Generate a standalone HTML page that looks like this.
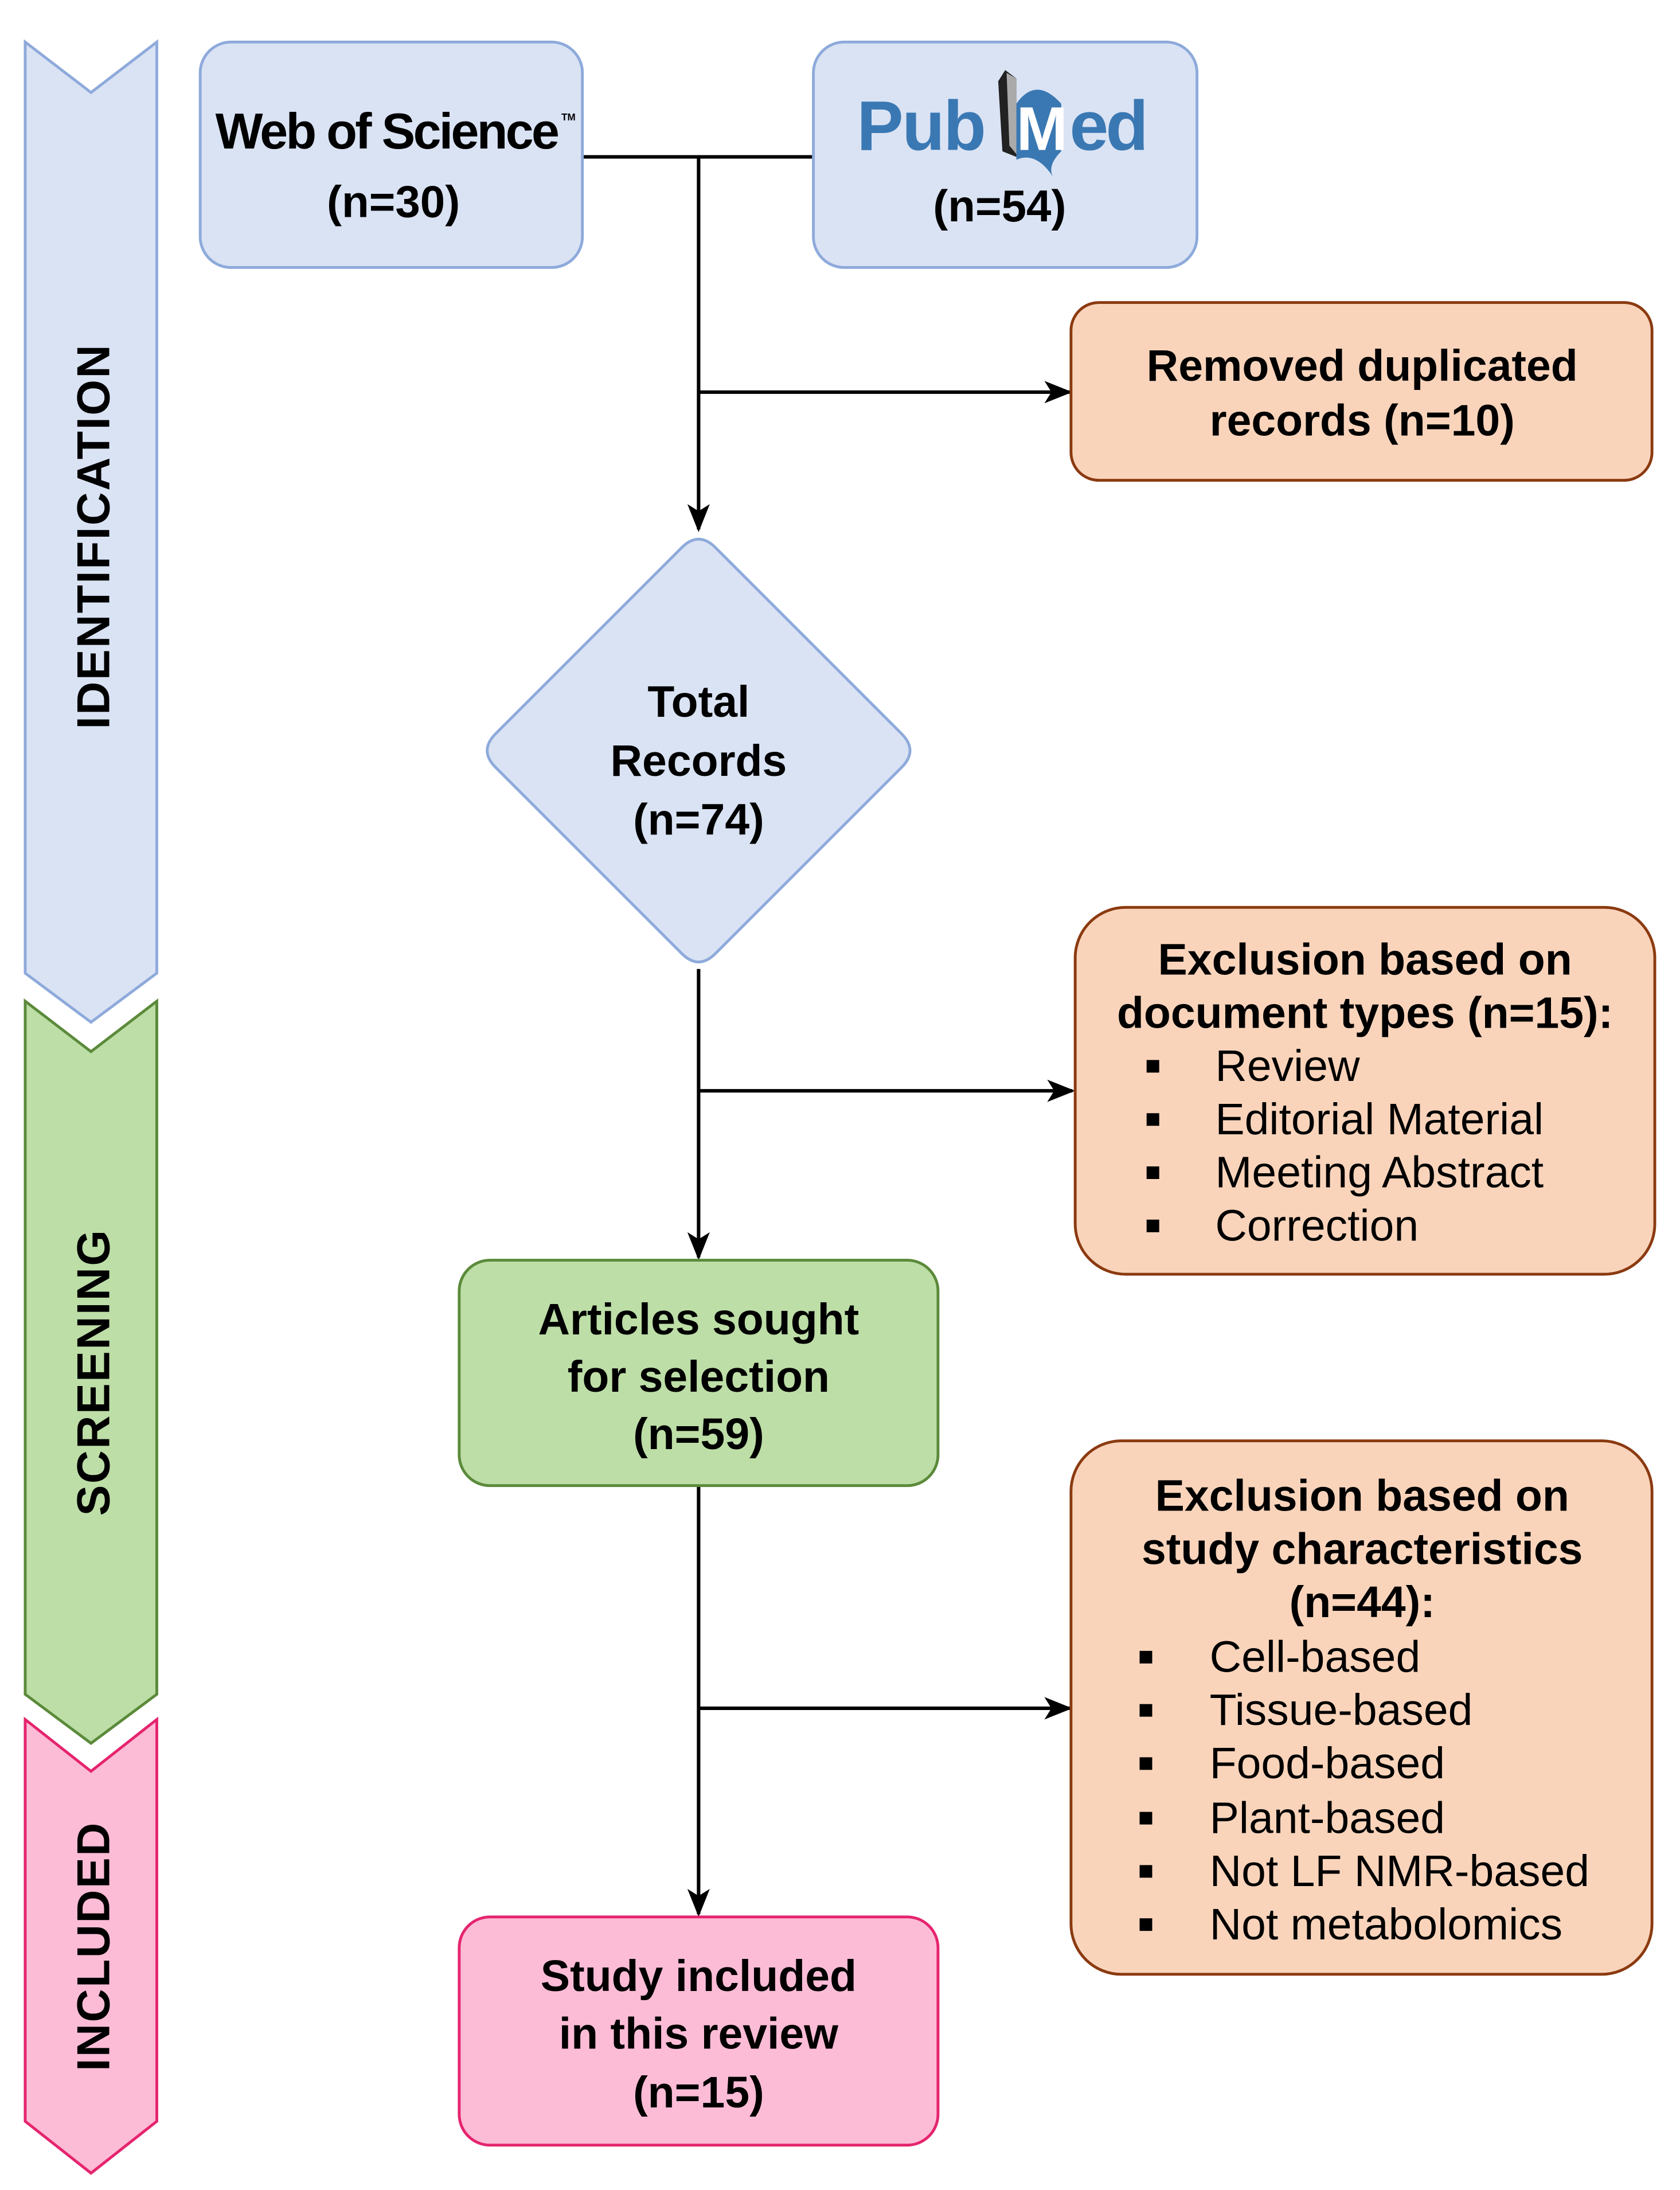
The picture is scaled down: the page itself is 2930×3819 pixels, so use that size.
<!DOCTYPE html>
<html><head><meta charset="utf-8"><style>
html,body{margin:0;padding:0;background:#fff}
svg{display:block}
text{font-family:"Liberation Sans",sans-serif}
</style></head><body>
<svg width="2930" height="3819" viewBox="0 0 1200 1564" xmlns="http://www.w3.org/2000/svg">
<defs>
<marker id="ah2" markerWidth="20" markerHeight="20" refX="18" refY="10" orient="auto" markerUnits="userSpaceOnUse" viewBox="0 0 20 20">
<path d="M0,2 L20,10 L0,18 L5,10 Z" fill="#000"/>
</marker>
</defs>
<rect width="1200" height="1564" fill="#fff"/>
<polygon points="18,30 65,66 112,30 112,695 65,730 18,695" fill="#dae3f4" stroke="#8eaadb" stroke-width="2"/>
<polygon points="18,715 65,751 112,715 112,1210 65,1245 18,1210" fill="#bddea7" stroke="#5b8a3a" stroke-width="2"/>
<polygon points="18,1228 65,1265 112,1228 112,1515 65,1552 18,1515" fill="#fdbcd6" stroke="#e5246e" stroke-width="2"/>
<text transform="translate(78,383) rotate(-90)" text-anchor="middle" font-size="33" font-weight="bold" letter-spacing="1">IDENTIFICATION</text>
<text transform="translate(78,980) rotate(-90)" text-anchor="middle" font-size="33" font-weight="bold" letter-spacing="1">SCREENING</text>
<text transform="translate(78,1390) rotate(-90)" text-anchor="middle" font-size="33" font-weight="bold" letter-spacing="1">INCLUDED</text>

<g stroke="#000" stroke-width="2.5" fill="none">
<line x1="416" y1="112" x2="581" y2="112"/>
<line x1="499" y1="112" x2="499" y2="378" marker-end="url(#ah2)"/>
<line x1="499" y1="280" x2="764" y2="280" marker-end="url(#ah2)"/>
<line x1="499" y1="692" x2="499" y2="898" marker-end="url(#ah2)"/>
<line x1="499" y1="779" x2="766" y2="779" marker-end="url(#ah2)"/>
<line x1="499" y1="1061" x2="499" y2="1367" marker-end="url(#ah2)"/>
<line x1="499" y1="1220" x2="764" y2="1220" marker-end="url(#ah2)"/>
</g>

<rect x="143" y="30" width="273" height="161" rx="22" fill="#dae3f4" stroke="#8eaadb" stroke-width="2"/>
<text x="276" y="106" text-anchor="middle" font-size="36" font-weight="bold" letter-spacing="-1.5">Web of Science</text>
<text x="401" y="86" font-size="7" font-weight="bold">TM</text>
<text x="281" y="155" text-anchor="middle" font-size="32" font-weight="bold">(n=30)</text>

<rect x="581" y="30" width="274" height="161" rx="22" fill="#dae3f4" stroke="#8eaadb" stroke-width="2"/>
<text x="612" y="107" font-size="50" font-weight="bold" fill="#3a78b3" letter-spacing="-1">Pub</text>
<path d="M713,58 L718,50 L726,56 L726,112 L716,108 Z" fill="#222"/>
<path d="M719,52 L726,56 L726,110 L721,104 Z" fill="#aaa"/>
<path d="M726,74 Q740,54 758,74 L758,108 Q748,118 752,126 Q740,108 726,114 Z" fill="#3a78b3"/>
<text x="726" y="107" font-size="44" font-weight="bold" fill="#fff" letter-spacing="-1">M</text>
<text x="764" y="107" font-size="50" font-weight="bold" fill="#3a78b3" letter-spacing="-2">ed</text>
<text x="714" y="158" text-anchor="middle" font-size="32" font-weight="bold">(n=54)</text>

<rect x="765" y="216" width="415" height="127" rx="20" fill="#f9d4bb" stroke="#8b3a10" stroke-width="2"/>
<text x="973" y="272" text-anchor="middle" font-size="31.5" font-weight="bold">Removed duplicated</text>
<text x="973" y="311" text-anchor="middle" font-size="31.5" font-weight="bold">records (n=10)</text>

<path d="M487,391 Q499,379 511,391 L644,524 Q656,536 644,548 L511,681 Q499,693 487,681 L354,548 Q342,536 354,524 Z" fill="#dae3f4" stroke="#8eaadb" stroke-width="2"/>
<text x="499" y="512" text-anchor="middle" font-size="31.5" font-weight="bold">Total</text>
<text x="499" y="554" text-anchor="middle" font-size="31.5" font-weight="bold">Records</text>
<text x="499" y="596" text-anchor="middle" font-size="31.5" font-weight="bold">(n=74)</text>

<rect x="768" y="648" width="414" height="262" rx="36" fill="#f9d4bb" stroke="#8b3a10" stroke-width="2"/>
<text x="975" y="696" text-anchor="middle" font-size="31.5" font-weight="bold">Exclusion based on</text>
<text x="975" y="734" text-anchor="middle" font-size="31.5" font-weight="bold">document types (n=15):</text>
<g font-size="31.5">
<rect x="819" y="757" width="9" height="9" fill="#000"/><text x="868" y="772">Review</text>
<rect x="819" y="795" width="9" height="9" fill="#000"/><text x="868" y="810">Editorial Material</text>
<rect x="819" y="833" width="9" height="9" fill="#000"/><text x="868" y="848">Meeting Abstract</text>
<rect x="819" y="871" width="9" height="9" fill="#000"/><text x="868" y="886">Correction</text>
</g>

<rect x="328" y="900" width="342" height="161" rx="22" fill="#bddea7" stroke="#5b8a3a" stroke-width="2"/>
<text x="499" y="953" text-anchor="middle" font-size="31.5" font-weight="bold">Articles sought</text>
<text x="499" y="994" text-anchor="middle" font-size="31.5" font-weight="bold">for selection</text>
<text x="499" y="1035" text-anchor="middle" font-size="31.5" font-weight="bold">(n=59)</text>

<rect x="765" y="1029" width="415" height="381" rx="36" fill="#f9d4bb" stroke="#8b3a10" stroke-width="2"/>
<text x="973" y="1079" text-anchor="middle" font-size="31.5" font-weight="bold">Exclusion based on</text>
<text x="973" y="1117" text-anchor="middle" font-size="31.5" font-weight="bold">study characteristics</text>
<text x="973" y="1155" text-anchor="middle" font-size="31.5" font-weight="bold">(n=44):</text>
<g font-size="31.5">
<rect x="814" y="1179" width="9" height="9" fill="#000"/><text x="864" y="1194">Cell-based</text>
<rect x="814" y="1217" width="9" height="9" fill="#000"/><text x="864" y="1232">Tissue-based</text>
<rect x="814" y="1255" width="9" height="9" fill="#000"/><text x="864" y="1270">Food-based</text>
<rect x="814" y="1294" width="9" height="9" fill="#000"/><text x="864" y="1309">Plant-based</text>
<rect x="814" y="1332" width="9" height="9" fill="#000"/><text x="864" y="1347">Not LF NMR-based</text>
<rect x="814" y="1370" width="9" height="9" fill="#000"/><text x="864" y="1385">Not metabolomics</text>
</g>

<rect x="328" y="1369" width="342" height="163" rx="22" fill="#fdbcd6" stroke="#e5246e" stroke-width="2"/>
<text x="499" y="1422" text-anchor="middle" font-size="31.5" font-weight="bold">Study included</text>
<text x="499" y="1463" text-anchor="middle" font-size="31.5" font-weight="bold">in this review</text>
<text x="499" y="1505" text-anchor="middle" font-size="31.5" font-weight="bold">(n=15)</text>
</svg>
</body></html>
